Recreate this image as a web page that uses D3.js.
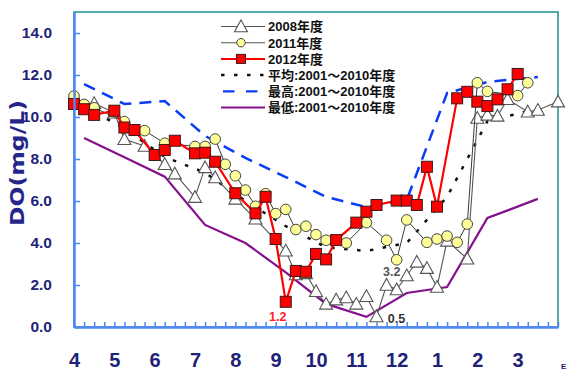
<!DOCTYPE html>
<html>
<head>
<meta charset="utf-8">
<script src="https://cdn.jsdelivr.net/npm/d3@7"></script>
<style>
  html, body { margin: 0; padding: 0; background: #fff; }
  svg { display: block; }
</style>
</head>
<body>
<svg id="chart" width="567" height="370"></svg>
<script>
// Sampling positions are in quarter-month steps from April 1 (0..48).
const monthLabels = ["4","5","6","7","8","9","10","11","12","1","2","3"];
const yTicks = [0, 2, 4, 6, 8, 10, 12, 14];

const weeks2008 = [2,4,5,7,9,10,12,13,14,16,18,21,22,23,24,25,26,27,28,29,30,31,32,33,34,35,36,37,39,40,41,42,43,45,46,48];
const do2008 = [10.65,10.2,8.94,8.62,7.75,7.3,6.18,7.6,7.12,6.1,5.15,3.63,2.5,2.55,1.7,1.1,1.3,1.4,1.1,1.46,0.5,2.0,1.78,2.45,3.1,2.8,1.9,4.1,3.25,9.95,10.1,10.05,10.84,10.25,10.33,10.73];

const weeks2011 = [0,1,2,5,7,9,12,13,14,15,16,17,18,19,20,21,22,23,24,25,27,29,31,32,33,35,36,37,38,39,40,41,44,45];
const do2011 = [11.0,10.6,10.44,9.78,9.35,8.75,8.6,8.6,8.95,7.75,7.2,6.52,5.75,6.35,5.4,5.6,4.64,4.8,4.4,4.13,4.0,4.97,4.13,3.2,5.1,4.03,4.19,4.33,4.03,4.9,11.63,11.22,11.02,11.63];

const weeks2012 = [0,1,2,4,5,6,8,9,10,12,13,14,16,18,19,20,21,22,23,24,25,26,28,29,30,32,33,34,35,36,38,39,40,41,42,43,44];
const do2012 = [10.62,10.37,10.1,10.3,9.5,9.38,8.19,8.43,8.87,8.27,8.3,7.87,6.37,5.41,6.2,4.19,1.2,2.67,2.63,3.48,3.22,4.14,4.97,5.49,5.81,6.02,6.02,5.81,7.63,5.73,10.89,11.2,10.73,10.52,10.84,11.32,12.05];

// 2001-2010 monthly reference values
const weeksRef = [1,5,9,13,17,21,25,29,33,37,41,46];
const doAvg = [10.5,9.45,8.1,7.35,6.0,4.8,3.8,3.62,4.0,6.2,9.8,10.4];
const doMax = [11.57,10.62,10.76,9.1,8.05,7.14,6.2,5.71,6.05,11.14,11.67,11.9];
const doMin = [9.0,8.08,7.16,4.86,4.0,2.6,1.1,0.48,1.62,1.9,5.19,6.1];

const legendLabels = ["2008年度","2011年度","2012年度","平均:2001～2010年度","最高:2001～2010年度","最低:2001～2010年度"];

// value annotations
const valueNotes = [
  { week: 21, value: 1.2, text: "1.2", color: "#ff2222", dx: -8, dy: 19 },
  { week: 32, value: 3.2, text: "3.2", color: "#555555", dx: -5, dy: 16 },
  { week: 30, value: 0.5, text: "0.5", color: "#333333", dx: 20, dy: 6 }
];

const svg = d3.select("#chart");
const plotL = 74, plotR = 558, plotT = 12, plotB = 327;
const x = d3.scaleLinear().domain([0, 48]).range([plotL, plotR]);
const y = d3.scaleLinear().domain([0, 15]).range([plotB, plotT]);

const NAVY = "#1e2378";
const AXIS_BLUE = "#4f87f7";
const NUM_FONT = "'Liberation Sans', Arial, sans-serif";
const LEG_FONT = "'Liberation Sans', 'Noto Sans CJK JP', sans-serif";

// frame
svg.append("rect")
  .attr("x", plotL).attr("y", plotT)
  .attr("width", plotR - plotL).attr("height", plotB - plotT)
  .attr("fill", "none").attr("stroke", "#1f8f8f").attr("stroke-width", 1.5);

const zip = (ws, vs) => ws.map((w, i) => ({ w, v: vs[i] }));
const line = d3.line().x(d => x(d.w)).y(d => y(d.v));

// reference lines
function refLine(data, color, width, dash) {
  svg.append("path").datum(data)
    .attr("d", line).attr("fill", "none")
    .attr("stroke", color).attr("stroke-width", width)
    .attr("stroke-dasharray", dash || null);
}
refLine(zip(weeksRef, doMin), "#86108c", 2.2);
refLine(zip(weeksRef, doMax), "#0a3cf5", 2.5, "12,8");
refLine(zip(weeksRef, doAvg), "#111111", 2.5, "3.5,9.5");

// markers
function triangle(g, cx, cy) {
  const s = 6.5;
  g.append("path")
    .attr("d", `M${cx},${cy - s} L${cx + s},${cy + s * 0.8} L${cx - s},${cy + s * 0.8} Z`)
    .attr("fill", "#ffffff").attr("stroke", "#555555").attr("stroke-width", 1.1);
}
function circle(g, cx, cy) {
  g.append("circle").attr("cx", cx).attr("cy", cy).attr("r", 5.3)
    .attr("fill", "#ffff99").attr("stroke", "#444444").attr("stroke-width", 1);
}
function square(g, cx, cy) {
  g.append("rect").attr("x", cx - 5.5).attr("y", cy - 5.5)
    .attr("width", 11).attr("height", 11)
    .attr("fill", "#ff0000").attr("stroke", "#3a1a1a").attr("stroke-width", 1);
}

function series(data, color, width, marker) {
  const g = svg.append("g");
  g.append("path").datum(data).attr("d", line)
    .attr("fill", "none").attr("stroke", color).attr("stroke-width", width);
  data.forEach(d => marker(g, x(d.w), y(d.v)));
}
series(zip(weeks2008, do2008), "#555555", 1.1, triangle);
series(zip(weeks2011, do2011), "#3a3a3a", 1, circle);
series(zip(weeks2012, do2012), "#ff0000", 2.2, square);

// value notes
valueNotes.forEach(n => {
  svg.append("text")
    .attr("x", x(n.week) + n.dx).attr("y", y(n.value) + n.dy)
    .attr("text-anchor", "middle")
    .attr("font-family", NUM_FONT).attr("font-size", 12.5)
    .attr("font-weight", 600).attr("fill", n.color)
    .text(n.text);
});

// y axis
const yAxis = d3.axisLeft(y).tickValues(yTicks)
  .tickFormat(d3.format(".1f"))
  .tickSizeInner(-6).tickSizeOuter(0).tickPadding(22);
const gy = svg.append("g").attr("transform", `translate(${plotL},0)`).call(yAxis);
gy.select(".domain").attr("stroke", AXIS_BLUE).attr("stroke-width", 2.5);
gy.selectAll(".tick line").attr("stroke", AXIS_BLUE).attr("stroke-width", 1.5);
gy.selectAll(".tick text")
  .attr("fill", NAVY).attr("font-family", NUM_FONT)
  .attr("font-size", 15.5).attr("font-weight", "bold");

// x axis minor ticks
const xAxis = d3.axisBottom(x).tickValues(d3.range(0, 49))
  .tickFormat("").tickSizeInner(-5).tickSizeOuter(0);
const gx = svg.append("g").attr("transform", `translate(0,${plotB})`).call(xAxis);
gx.select(".domain").attr("stroke", AXIS_BLUE).attr("stroke-width", 2.5);
gx.selectAll(".tick line").attr("stroke", AXIS_BLUE).attr("stroke-width", 1.5);

// month labels
const xLab = d3.axisBottom(x).tickValues(d3.range(0, 48, 4))
  .tickFormat((d, i) => monthLabels[i]).tickSize(0).tickPadding(26);
const gl = svg.append("g").attr("transform", `translate(0,${plotB})`).call(xLab);
gl.select(".domain").remove();
gl.selectAll(".tick text")
  .attr("fill", NAVY).attr("font-family", NUM_FONT)
  .attr("font-size", 20).attr("font-weight", "bold");

// y axis title
svg.append("text")
  .attr("transform", "translate(24,163) rotate(-90)")
  .attr("text-anchor", "middle")
  .attr("font-family", "'DejaVu Sans', sans-serif").attr("font-size", 19).attr("font-weight", "bold")
  .attr("fill", "#26268a")
  .attr("textLength", 126).attr("lengthAdjust", "spacingAndGlyphs")
  .text("DO(mg/L)");

svg.append("text")
  .attr("x", 561).attr("y", 369)
  .attr("font-family", NUM_FONT).attr("font-size", 8).attr("font-weight", "bold")
  .attr("fill", NAVY).text("E");

// legend
const lg = svg.append("g");
const lx0 = 221, lx1 = 265, lxm = 241, ltx = 268;
legendLabels.forEach((lab, i) => {
  const ly = 26.5 + i * 16.2;
  const row = lg.append("g");
  if (i === 0) {
    row.append("line").attr("x1", lx0).attr("x2", lx1).attr("y1", ly).attr("y2", ly)
      .attr("stroke", "#555555").attr("stroke-width", 1.1);
    triangle(row, lxm, ly);
  } else if (i === 1) {
    row.append("line").attr("x1", lx0).attr("x2", lx1).attr("y1", ly).attr("y2", ly)
      .attr("stroke", "#555555").attr("stroke-width", 1.1);
    row.append("circle").attr("cx", lxm).attr("cy", ly).attr("r", 4.2)
      .attr("fill", "#ffff99").attr("stroke", "#444").attr("stroke-width", 1);
  } else if (i === 2) {
    row.append("line").attr("x1", lx0).attr("x2", lx1).attr("y1", ly).attr("y2", ly)
      .attr("stroke", "#ff0000").attr("stroke-width", 2);
    row.append("rect").attr("x", lxm - 4.5).attr("y", ly - 4.5).attr("width", 9).attr("height", 9)
      .attr("fill", "#ff0000").attr("stroke", "#3a1a1a").attr("stroke-width", 1);
  } else if (i === 3) {
    row.append("line").attr("x1", lx0).attr("x2", lx1).attr("y1", ly).attr("y2", ly)
      .attr("stroke", "#111").attr("stroke-width", 2.5).attr("stroke-dasharray", "3.5,9.5");
  } else if (i === 4) {
    row.append("line").attr("x1", lx0 + 2).attr("x2", lx1).attr("y1", ly).attr("y2", ly)
      .attr("stroke", "#0a3cf5").attr("stroke-width", 2.2).attr("stroke-dasharray", "11.5,11.5");
  } else {
    row.append("line").attr("x1", lx0).attr("x2", lx1).attr("y1", ly).attr("y2", ly)
      .attr("stroke", "#86108c").attr("stroke-width", 2);
  }
  row.append("text").attr("x", ltx).attr("y", ly + 4.8)
    .attr("font-family", LEG_FONT).attr("font-size", 13).attr("font-weight", "bold")
    .attr("fill", "#111").text(lab);
});
</script>
</body>
</html>
